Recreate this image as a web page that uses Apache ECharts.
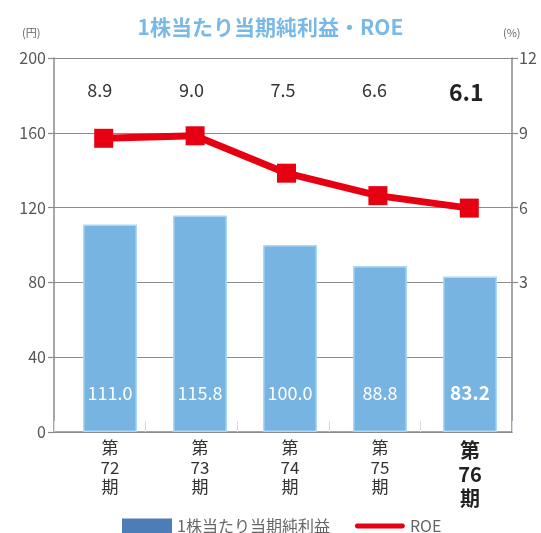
<!DOCTYPE html>
<html>
<head>
<meta charset="utf-8">
<script src="https://cdn.jsdelivr.net/npm/echarts@6/dist/echarts.min.js"></script>
<style>
html,body{margin:0;padding:0;background:#fff;}
#chart{width:541px;height:533px;}
</style>
</head>
<body>
<div id="chart"></div>
<script>
// ---- data ----
var categories = ['第72期', '第73期', '第74期', '第75期', '第76期'];
var catLines = [['第','72','期'],['第','73','期'],['第','74','期'],['第','75','期'],['第','76','期']];
var epsValues = [111.0, 115.8, 100.0, 88.8, 83.2];
var roeValues = [8.9, 9.0, 7.5, 6.6, 6.1];
var leftTicks = [0, 40, 80, 120, 160, 200];
var rightTicks = [3, 6, 9, 12];
var titleText = '1株当たり当期純利益・ROE';
var barName = '1株当たり当期純利益';
var lineName = 'ROE';

var FONT = "'Noto Sans CJK JP', 'Noto Sans', sans-serif";
var last = categories.length - 1;
var axisColor = '#8a8a8a';

var chart = echarts.init(document.getElementById('chart'), null, {renderer: 'canvas'});
var option = {
  backgroundColor: '#fff',
  animation: false,
  textStyle: {fontFamily: FONT},
  title: {
    text: titleText,
    left: 'center',
    top: 12,
    textStyle: {fontFamily: FONT, fontSize: 21, fontWeight: 'bold', color: '#7ab8e6'}
  },
  graphic: [
    {type: 'text', left: 22, top: 27, style: {text: '(円)', fontSize: 11, fill: '#666', fontFamily: FONT}},
    {type: 'text', left: 503, top: 27, style: {text: '(%)', fontSize: 11, fill: '#666', fontFamily: FONT}}
  ],
  legend: {
    left: 117,
    top: 513,
    itemWidth: 50,
    itemHeight: 15,
    itemGap: 25,
    textStyle: {fontFamily: FONT, fontSize: 16, color: '#666'},
    data: [
      {name: barName, icon: 'rect', itemStyle: {color: '#4d7db6', borderWidth: 0}},
      {name: lineName, icon: 'path://M2,0 L48,0 A2.5,2.5 0 0 1 48,5 L2,5 A2.5,2.5 0 0 1 2,0 Z', itemStyle: {color: '#e60012', borderWidth: 0}}
    ]
  },
  grid: [
    {left: 54, right: 29, top: 58, bottom: 101},
    {left: 65, right: 26, top: 58, bottom: 101},
    {left: 58, right: 26, top: 61, bottom: 98}
  ],
  xAxis: [
    {
      gridIndex: 0, type: 'category', data: categories, boundaryGap: true,
      axisLine: {show: true, lineStyle: {color: axisColor, width: 1.5}},
      axisTick: {show: true, inside: true, length: 11, interval: 0, lineStyle: {color: '#d5dde6', width: 1}},
      axisLabel: {show: false}
    },
    {
      gridIndex: 0, type: 'category', data: categories, position: 'top', boundaryGap: true,
      axisLine: {show: false}, axisTick: {show: false},
      axisLabel: {
        show: true, inside: true, margin: 23, interval: 0,
        formatter: function (v, i) {
          var s = roeValues[i].toFixed(1);
          return i === last ? '{b|' + s + '}' : '{n|' + s + '}';
        },
        rich: {
          n: {fontFamily: FONT, fontSize: 18, color: '#333'},
          b: {fontFamily: FONT, fontSize: 23, fontWeight: 'bold', color: '#222'}
        }
      }
    },
    {
      gridIndex: 1, type: 'category', data: categories, boundaryGap: true,
      axisLine: {show: false}, axisTick: {show: false},
      axisLabel: {
        show: true, interval: 0, margin: 6,
        formatter: function (v, i) {
          var parts = catLines[i];
          var key = i === last ? 'b' : 'n';
          return parts.map(function (p) { return '{' + key + '|' + p + '}'; }).join('\n');
        },
        rich: {
          n: {fontFamily: FONT, fontSize: 17, lineHeight: 19.5, color: '#333', align: 'center'},
          b: {fontFamily: FONT, fontSize: 20, fontWeight: 'bold', lineHeight: 24, color: '#222', align: 'center'}
        }
      }
    },
    {
      gridIndex: 2, type: 'category', data: categories, boundaryGap: true, show: false
    }
  ],
  yAxis: [
    {
      gridIndex: 0, type: 'value', position: 'left', min: leftTicks[0], max: leftTicks[leftTicks.length - 1], interval: 40,
      axisLine: {show: true, lineStyle: {color: axisColor, width: 1.5}},
      axisTick: {show: true, inside: false, length: 6, lineStyle: {color: axisColor, width: 1.2}},
      axisLabel: {margin: 8, fontFamily: FONT, fontSize: 16, color: '#555'},
      splitLine: {show: true, lineStyle: {color: '#8c8c8c', width: 1}}
    },
    {
      gridIndex: 0, type: 'value', position: 'right', min: -3, max: 12, interval: 3,
      axisLine: {show: true, lineStyle: {color: axisColor, width: 1.5}},
      axisTick: {show: true, inside: false, length: 6, customValues: rightTicks, lineStyle: {color: axisColor, width: 1.2}},
      axisLabel: {margin: 7, customValues: rightTicks, fontFamily: FONT, fontSize: 16, color: '#555'},
      splitLine: {show: false}
    },
    {gridIndex: 1, type: 'value', min: 0, max: 200, show: false, splitLine: {show: false}},
    {gridIndex: 2, type: 'value', min: -3, max: 12, show: false, splitLine: {show: false}}
  ],
  series: [
    {
      name: barName, type: 'bar', xAxisIndex: 2, yAxisIndex: 2,
      data: epsValues, barWidth: 54,
      itemStyle: {color: '#78b4e2', borderColor: '#a9d9f6', borderWidth: 1.5},
      label: {
        show: true, position: 'insideBottom', distance: 30,
        formatter: function (p) {
          var s = epsValues[p.dataIndex].toFixed(1);
          return p.dataIndex === last ? '{b|' + s + '}' : '{n|' + s + '}';
        },
        rich: {
          n: {fontFamily: FONT, fontSize: 18, color: '#fff'},
          b: {fontFamily: FONT, fontSize: 19, fontWeight: 'bold', color: '#fff'}
        }
      },
      z: 2
    },
    {
      name: lineName, type: 'line', xAxisIndex: 3, yAxisIndex: 3,
      data: roeValues,
      symbol: 'rect', symbolSize: 19,
      lineStyle: {color: '#e60012', width: 7},
      itemStyle: {color: '#e60012'},
      z: 3
    }
  ]
};
chart.setOption(option);
</script>
</body>
</html>
